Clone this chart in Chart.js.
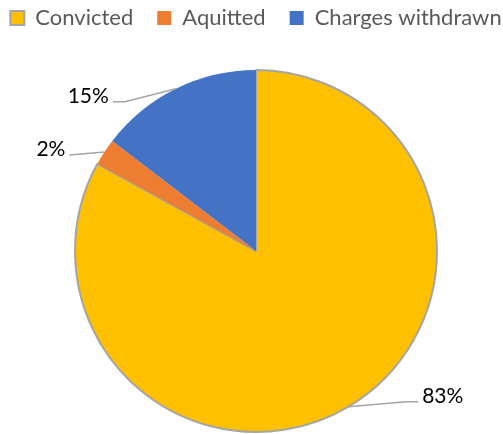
<!DOCTYPE html>
<html>
<head>
<meta charset="utf-8">
<script src="https://cdn.jsdelivr.net/npm/chart.js@4/dist/chart.umd.min.js"></script>
<style>
  html, body { margin: 0; padding: 0; background: #fff; overflow: hidden; }
  /* 9px wider than the window so the pie centre lands at x=256 */
  #wrap { width: 512px; height: 434px; }
</style>
</head>
<body>
<div id="wrap"><canvas id="pie-chart"></canvas></div>
<script>
// Chart data
const categories = ['Convicted', 'Aquitted', 'Charges withdrawn'];
const shares = [83, 2.4, 14.6];
const shareLabels = ['83%', '2%', '15%'];

// Slice styles
const fillColors = ['#FFC000', '#ED7D31', '#4472C4'];
const edgeColors = ['#A5A5A5', '#ED7D31', '#4472C4'];
const edgeWidths = [2, 0, 0];

// Leader line layout per slice: [dx, dy, tail] from the slice's outer midpoint
const leaderLayout = [[58, -5, 12], [-35, 3, 0], [-51, 13, -12]];

// Draws percent labels outside the pie with leader lines
const outsideLabels = {
  id: 'outsideLabels',
  afterDatasetsDraw(chart) {
    const ctx = chart.ctx;
    const meta = chart.getDatasetMeta(0);
    ctx.save();
    ctx.font = '21px Lato';
    ctx.fillStyle = '#000';
    ctx.strokeStyle = '#A5A5A5';
    ctx.lineWidth = 1.5;
    meta.data.forEach((arc, i) => {
      const p = arc.getProps(['x', 'y', 'startAngle', 'endAngle', 'outerRadius'], true);
      const mid = (p.startAngle + p.endAngle) / 2;
      const ex = p.x + Math.cos(mid) * p.outerRadius;
      const ey = p.y + Math.sin(mid) * p.outerRadius;
      const [dx, dy, tail] = leaderLayout[i];
      const bx = ex + dx;
      const by = ey + dy;
      const tx = bx + tail;
      ctx.beginPath();
      ctx.moveTo(ex, ey);
      ctx.lineTo(bx, by);
      ctx.lineTo(tx, by);
      ctx.stroke();
      const right = dx > 0;
      ctx.textAlign = right ? 'left' : 'right';
      ctx.textBaseline = 'alphabetic';
      ctx.fillText(shareLabels[i], right ? tx + 4 : tx - 4, by + 1);
    });
    ctx.restore();
  }
};

const ctx = document.getElementById('pie-chart').getContext('2d');
new Chart(ctx, {
  type: 'pie',
  data: {
    labels: categories,
    datasets: [{
      data: shares,
      backgroundColor: fillColors,
      borderColor: edgeColors,
      borderWidth: edgeWidths
    }]
  },
  options: {
    responsive: true,
    maintainAspectRatio: false,
    animation: false,
    layout: {
      // negative sides only widen the legend row
      padding: { top: -17, bottom: 1, left: -25, right: -25 }
    },
    plugins: {
      legend: {
        display: true,
        position: 'top',
        align: 'center',
        labels: {
          boxWidth: 14,
          boxHeight: 14,
          padding: 24,
          color: '#595959',
          font: { family: 'Lato', size: 22 }
        }
      },
      // empty spacer between legend and pie
      subtitle: {
        display: true,
        text: ' ',
        weight: 500,
        font: { size: 10 },
        padding: { top: 18, bottom: 0 }
      },
      tooltip: { enabled: false }
    }
  },
  plugins: [outsideLabels]
});
</script>
</body>
</html>
